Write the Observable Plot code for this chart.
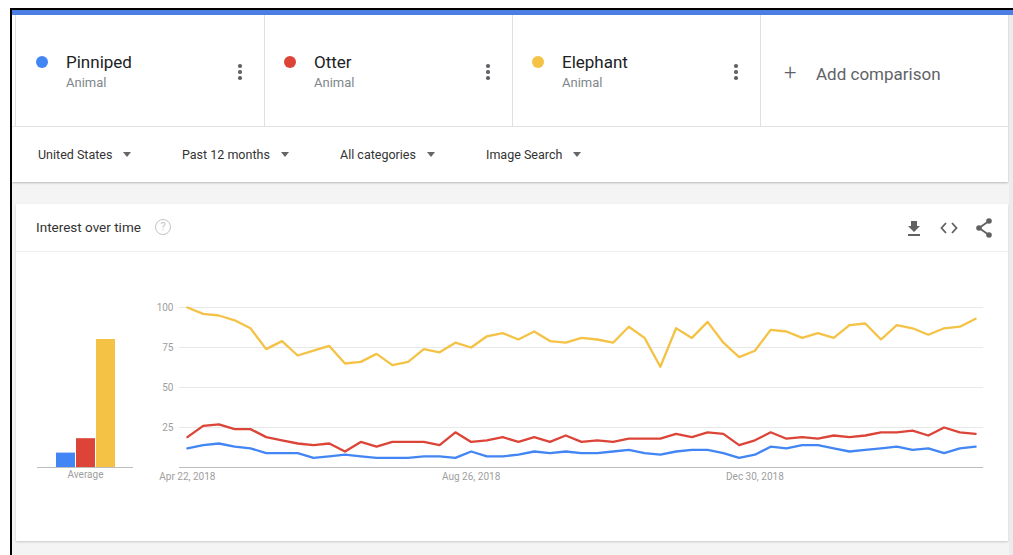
<!DOCTYPE html>
<html>
<head>
<meta charset="utf-8">
<script src="https://cdn.jsdelivr.net/npm/d3@7"></script>
<script src="https://cdn.jsdelivr.net/npm/@observablehq/plot@0.6"></script>
<style>
  html, body { margin:0; padding:0; }
  body { width:1013px; height:555px; overflow:hidden; background:#fff; position:relative; font-family:Roboto, "Noto Sans", sans-serif; }
  .abs { position:absolute; }
  .name { font-size:17px; color:#202124; line-height:20px; }
  .sub { font-size:13px; color:#80868b; line-height:16px; }
  .kebab { width:4px; }
  .kebab span { display:block; width:3.5px; height:3.5px; border-radius:50%; background:#5f6368; margin-bottom:2.5px; }
  .dot { width:12px; height:12px; border-radius:50%; }
  .filter { font-size:12.5px; color:#333; line-height:16px; white-space:nowrap; }
  .tri { display:inline-block; width:0; height:0; border-left:4.5px solid transparent; border-right:4.5px solid transparent; border-top:5px solid #666; vertical-align:middle; margin-left:11px; margin-top:-2px; }
  .vline { width:1px; background:#e0e0e0; }
</style>
</head>
<body>
<div id="page"></div>
<script>
// ---------- data ----------
const seriesNames = ["Pinniped", "Otter", "Elephant"];
const seriesColors = ["#4285f4", "#db4437", "#f4c245"];
const seriesSub = ["Animal", "Animal", "Animal"];
const filters = ["United States", "Past 12 months", "All categories", "Image Search"];
const startWeek = "2018-04-22";
const xTickDates = ["2018-04-22", "2018-08-26", "2018-12-30"];
const yTicks = [25, 50, 75, 100];

const pinniped = [12,14,15,13,12,9,9,9,6,7,8,7,6,6,6,7,7,
                  6,10,7,7,8,10,9,10,9,9,10,11,9,8,10,11,11,9,
                  6,8,13,12,14,14,12,10,11,12,13,11,12,9,12,13];
const otter    = [19,26,27,24,24,19,17,15,14,15,10,16,13,16,16,16,14,
                  22,16,17,19,16,19,16,20,16,17,16,18,18,18,21,19,22,21,
                  14,17,22,18,19,18,20,19,20,22,22,23,20,25,22,21];
const elephant = [100,96,95,92,87,74,79,70,73,76,65,66,71,64,66,74,72,
                  78,75,82,84,80,85,79,78,81,80,78,88,81,63,87,81,91,78,
                  69,73,86,85,81,84,81,89,90,80,89,87,83,87,88,93];
const averages = [9, 18, 80];

// ---------- build tables ----------
const parse = d3.utcParse("%Y-%m-%d");
const start = parse(startWeek);
const dates = pinniped.map((_, i) => d3.utcWeek.offset(start, i));
const seriesValues = [pinniped, otter, elephant];
const rows = [];
seriesValues.forEach((vals, s) => vals.forEach((v, i) => rows.push({series: seriesNames[s], date: dates[i], value: v})));
const avgRows = seriesNames.map((n, i) => ({series: n, value: averages[i]}));

const page = document.getElementById("page");
function el(html) { const t = document.createElement("template"); t.innerHTML = html.trim(); const n = t.content.firstChild; page.appendChild(n); return n; }

// ---------- frame / chrome ----------
el(`<div class="abs" style="left:0;top:0;width:1013px;height:555px;background:#f4f4f4"></div>`);
el(`<div class="abs" style="left:0;top:0;width:1013px;height:8px;background:#fff"></div>`);
el(`<div class="abs" style="left:0;top:0;width:10px;height:555px;background:#fff"></div>`);
el(`<div class="abs" style="left:10px;top:8px;width:1003px;height:2px;background:#000"></div>`);
el(`<div class="abs" style="left:10px;top:8px;width:2px;height:547px;background:#000"></div>`);
el(`<div class="abs" style="left:12px;top:10px;width:1001px;height:5px;background:#4c7fe3"></div>`);
// top panel
el(`<div class="abs" style="left:12px;top:15px;width:996px;height:167px;background:#fff;box-shadow:0 1px 2px rgba(0,0,0,0.25)"></div>`);
el(`<div class="abs" style="left:12px;top:126px;width:996px;height:1px;background:#e3e3e3"></div>`);
[15, 264, 512, 760, 1008].forEach(x => el(`<div class="abs vline" style="left:${x}px;top:15px;height:111px"></div>`));
el(`<div class="abs" style="left:1009px;top:15px;width:4px;height:540px;background:#ececec"></div>`);

const boxX = [42, 290, 538];
seriesNames.forEach((n, i) => {
  const x = boxX[i];
  el(`<div class="abs dot" style="left:${x-6}px;top:${62-6}px;background:${seriesColors[i]}"></div>`);
  el(`<div class="abs name" style="left:${x+24}px;top:52px">${n}</div>`);
  el(`<div class="abs sub" style="left:${x+24}px;top:75px">${seriesSub[i]}</div>`);
  el(`<div class="abs kebab" style="left:${x+196}px;top:64px"><span></span><span></span><span></span></div>`);
});
el(`<div class="abs" style="left:784px;top:60px;font-size:22px;line-height:26px;color:#5f6368;font-weight:300">+</div>`);
el(`<div class="abs" style="left:816px;top:64px;font-size:17px;line-height:20px;color:#5f6368">Add comparison</div>`);

const filterX = [38, 182, 340, 486];
filters.forEach((f, i) => el(`<div class="abs filter" style="left:${filterX[i]}px;top:147px">${f}<span class="tri"></span></div>`));

// card
el(`<div class="abs" style="left:16px;top:204px;width:992px;height:337px;background:#fff;box-shadow:0 1px 2px rgba(0,0,0,0.18)"></div>`);
el(`<div class="abs" style="left:16px;top:251px;width:992px;height:1px;background:#eeeeee"></div>`);
el(`<div class="abs" style="left:36px;top:219px;font-size:13.5px;line-height:16px;color:#333">Interest over time</div>`);
el(`<div class="abs" style="left:155px;top:219px;width:16px;height:16px;border:1.3px solid #c4c4c4;border-radius:50%;box-sizing:border-box;font-size:11px;line-height:14px;text-align:center;color:#c4c4c4">?</div>`);
// icons
el(`<svg class="abs" style="left:906px;top:219px" width="16" height="18" viewBox="0 0 16 18"><path d="M5 2h6v5h3l-6 6-6-6h3z" fill="#616161"/><rect x="2" y="15" width="12" height="2" fill="#616161"/></svg>`);
el(`<svg class="abs" style="left:940px;top:220px" width="18" height="16" viewBox="0 0 18 16"><path d="M6 3L1.5 8 6 13M12 3l4.5 5L12 13" fill="none" stroke="#616161" stroke-width="1.8"/></svg>`);
el(`<svg class="abs" style="left:975px;top:218px" width="18" height="20" viewBox="0 0 18 20"><path d="M14 3L4 10l10 7" fill="none" stroke="#616161" stroke-width="1.8"/><circle cx="14" cy="3" r="2.8" fill="#616161"/><circle cx="4" cy="10" r="2.8" fill="#616161"/><circle cx="14" cy="17" r="2.8" fill="#616161"/></svg>`);

// ---------- line chart ----------
const xDomain = [d3.utcHour.offset(dates[0], -84), d3.utcHour.offset(dates[dates.length-1], 84)];
const fmt = d3.utcFormat("%b %-d, %Y");
const lineChart = Plot.plot({
  width: 1013, height: 200,
  marginLeft: 179, marginRight: 30, marginTop: 17, marginBottom: 23,
  style: {background: "transparent", color: "#9e9e9e", fontFamily: "Roboto, sans-serif", fontSize: "10px"},
  x: {type: "utc", domain: xDomain},
  y: {domain: [0, 100]},
  color: {domain: seriesNames, range: seriesColors},
  marks: [
    Plot.ruleY(yTicks, {stroke: "#e8e8e8"}),
    Plot.ruleY([0], {stroke: "#bdbdbd"}),
    Plot.axisY({ticks: yTicks, tickSize: 0, tickPadding: 6, label: null, fill: "#9e9e9e"}),
    Plot.axisX({ticks: xTickDates.map(parse), tickFormat: fmt, tickSize: 0, tickPadding: 5, label: null, fill: "#9e9e9e"}),
    Plot.line(rows, {x: "date", y: "value", z: "series", stroke: "series", strokeWidth: 2.3, curve: "linear"})
  ]
});
lineChart.style.position = "absolute";
lineChart.style.left = "0px";
lineChart.style.top = "290px";
page.appendChild(lineChart);

// ---------- average bars ----------
const barChart = Plot.plot({
  width: 150, height: 200,
  marginLeft: 37, marginRight: 17, marginTop: 17, marginBottom: 23,
  style: {background: "transparent", color: "#9e9e9e", fontFamily: "Roboto, sans-serif", fontSize: "10px"},
  x: {domain: seriesNames, paddingInner: 0.06, paddingOuter: 0.92, axis: null},
  y: {domain: [0, 100], axis: null},
  color: {domain: seriesNames, range: seriesColors},
  marks: [
    Plot.barY(avgRows, {x: "series", y: "value", fill: "series"}),
    Plot.ruleY([0], {stroke: "#bdbdbd"}),
    Plot.text(["Average"], {frameAnchor: "bottom", dy: 10, fill: "#9e9e9e"})
  ]
});
barChart.style.position = "absolute";
barChart.style.left = "0px";
barChart.style.top = "290px";
page.appendChild(barChart);
</script>
</body>
</html>
